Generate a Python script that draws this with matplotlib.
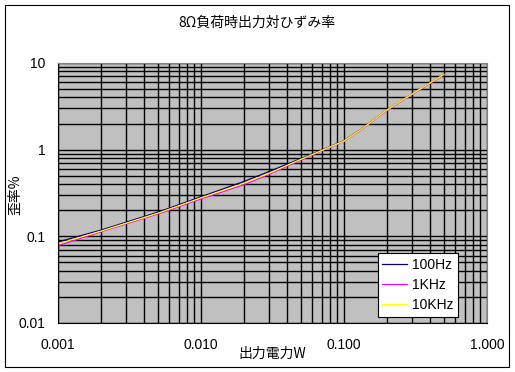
import matplotlib
matplotlib.use('Agg')
import matplotlib.pyplot as plt
from matplotlib.patches import Rectangle
from matplotlib.ticker import FixedLocator, NullFormatter, LogLocator

plt.rcParams['font.family'] = ['Noto Sans CJK JP', 'DejaVu Sans']

# data
power_w = [0.001, 0.002, 0.005, 0.01, 0.02, 0.03, 0.05, 0.07, 0.1, 0.13, 0.15, 0.2, 0.3, 0.5]
thd_100hz = [0.086, 0.118, 0.19, 0.286, 0.43, 0.56, 0.79, 0.99, 1.27, 1.70, 2.02, 2.88, 4.4, 7.4]
thd_1khz = [0.078, 0.113, 0.181, 0.27, 0.395, 0.52, 0.76, 0.97, 1.25, 1.67, 1.99, 2.84, 4.35, 7.3]
thd_10khz = [0.082, 0.115, 0.185, 0.278, 0.41, 0.535, 0.775, 0.98, 1.26, 1.69, 2.01, 2.88, 4.4, 7.4]

x_ticks = [0.001, 0.01, 0.1, 1.0]
x_ticklabels = ['0.001', '0.010', '0.100', '1.000']
y_ticks = [0.01, 0.1, 1, 10]
y_ticklabels = ['0.01', '0.1', '1', '10']

W, H = 515, 372
fig = plt.figure(figsize=(W / 100, H / 100), dpi=100)

# outer frame
fig.patches.append(Rectangle((5 / W, 1 - 367 / H), 504 / W, 362 / H,
                             transform=fig.transFigure, fill=False,
                             edgecolor='black', linewidth=0.8))

ax = fig.add_axes([58 / W, 1 - 323 / H, 429 / W, 260 / H])
ax.set_facecolor('#c0c0c0')
ax.set_xscale('log')
ax.set_yscale('log')
ax.set_xlim(0.001, 1.0)
ax.set_ylim(0.01, 10)

ax.xaxis.set_major_locator(FixedLocator(x_ticks))
ax.yaxis.set_major_locator(FixedLocator(y_ticks))
ax.xaxis.set_minor_locator(LogLocator(base=10, subs=range(2, 10), numticks=20))
ax.yaxis.set_minor_locator(LogLocator(base=10, subs=range(2, 10), numticks=20))
ax.xaxis.set_minor_formatter(NullFormatter())
ax.yaxis.set_minor_formatter(NullFormatter())
ax.set_xticklabels(x_ticklabels, family='Liberation Sans', fontsize=10)
ax.set_yticklabels(y_ticklabels, family='Liberation Sans', fontsize=10)
ax.tick_params(which='both', length=0)
ax.tick_params(axis='x', pad=11)
ax.tick_params(axis='y', pad=9)

ax.grid(True, which='both', color='black', linewidth=1.0)
ax.set_axisbelow(True)
for side in ['top', 'right']:
    ax.spines[side].set_color('#808080')
for side in ['left', 'bottom']:
    ax.spines[side].set_color('black')

ax.plot(power_w, thd_100hz, color='#000080', linewidth=0.9, label='100Hz')
ax.plot(power_w, thd_1khz, color='#ff00ff', linewidth=0.9, label='1KHz')
ax.plot(power_w, thd_10khz, color='#ffff00', linewidth=0.9, label='10KHz')

leg = ax.legend(loc='lower right', bbox_to_anchor=((458 - 58) / 429, (323 - 317) / 260),
                frameon=True, fancybox=False, framealpha=1.0, edgecolor='black',
                prop={'family': 'Liberation Sans', 'size': 10},
                handlelength=1.8, handletextpad=0.3, labelspacing=0.45,
                borderpad=0.35, borderaxespad=0)
leg.get_frame().set_linewidth(0.8)

fig.text(257 / W, 1 - 23 / H, '8Ω負荷時出力対ひずみ率', ha='center', va='center', fontsize=10)
fig.text(272 / W, 1 - 354 / H, '出力電力W', ha='center', va='center', fontsize=10)
fig.text(15 / W, 1 - 195 / H, '歪率%', ha='center', va='center', rotation=90, fontsize=10)

fig.savefig('out.png', dpi=100)
